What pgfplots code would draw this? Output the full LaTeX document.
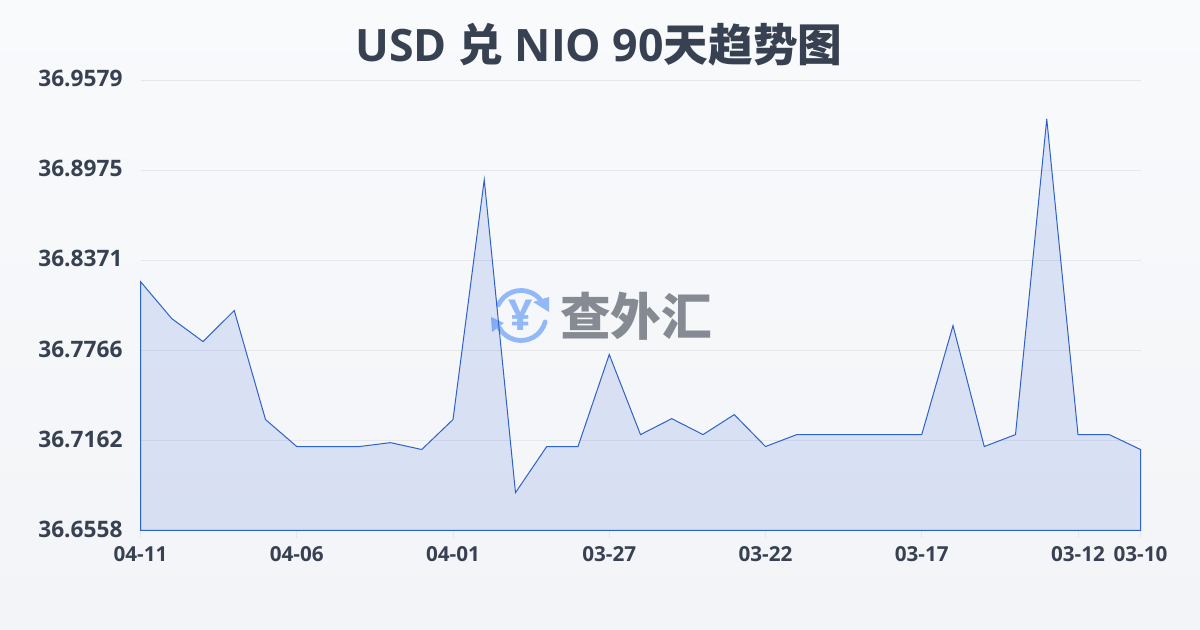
\documentclass[border=0pt]{standalone}
\usepackage{fontspec}
\setmainfont{Open Sans}[BoldFont={Open Sans Bold}]
\newfontfamily\cjk{Noto Sans CJK SC}
\usepackage{pgfplots}
\pgfplotsset{compat=1.18}
\definecolor{txt}{HTML}{374151}
\definecolor{lne}{HTML}{2F62C8}
\definecolor{fil}{HTML}{1D4ED8}
\definecolor{grd}{HTML}{E5E7EB}
\definecolor{wm}{HTML}{868A93}
\definecolor{lg}{HTML}{93B8F8}
\begin{document}
\begin{tikzpicture}[x=0.75pt,y=0.75pt]
\path[use as bounding box] (0,0) rectangle (1200,630);
\shade[top color={rgb,255:red,249;green,250;blue,252}, bottom color={rgb,255:red,242;green,244;blue,247}] (0,0) rectangle (1200,630);
\node[anchor=center,text=txt,font=\bfseries\fontsize{33.5}{36}\selectfont] at (599,585) {USD {\cjk 兑} NIO 90{\cjk 天趋势图}};
% watermark
\draw[lg,line width=3.6pt,line cap=round] (521,314.5)+(155:25) arc[start angle=155,end angle=32,radius=25];
\draw[lg,line width=3.6pt,line cap=round] (521,314.5)+(-15:25) arc[start angle=-15,end angle=-150,radius=25];
\fill[lg] (549,333) -- (549,318) -- (533,328) -- cycle;
\fill[lg] (491,313) -- (492,298) -- (504,307) -- cycle;
\node[text=lg,font=\bfseries\fontsize{32}{32}\selectfont] at (521,314.5) {¥};
\node[anchor=west,text=wm,inner sep=0pt,font=\cjk\bfseries\fontsize{38}{40}\selectfont] at (560,314) {查外汇};
\begin{axis}[
  at={(105.375pt,74.625pt)}, anchor=south west,
  scale only axis, width=750pt, height=337.875pt,
  xmin=0, xmax=32, ymin=36.6558, ymax=36.9579,
  clip=false,
  axis line style={draw=none},
  tick pos=left,
  /pgf/number format/assume math mode=true,
  xtick={0,5,10,15,20,25,30,32},
  xticklabels={04-11,04-06,04-01,03-27,03-22,03-17,03-12,03-10},
  ytick={36.6558,36.7162,36.7766,36.8371,36.8975,36.9579},
  yticklabels={36.6558,36.7162,36.7766,36.8371,36.8975,36.9579},
  ymajorgrids, grid style={grd,line width=0.6pt},
  tick align=outside, major tick length=6pt,
  xtick style={grd,line width=0.6pt}, ytick style={draw=none},
  x tick label style={text=txt,font=\bfseries\fontsize{15.5}{17}\selectfont,yshift=-2.5pt},
  y tick label style={text=txt,font=\bfseries\fontsize{17}{19}\selectfont,xshift=-4pt,yshift=1pt},
]
\addplot[draw=lne,line width=0.75pt,line join=miter,fill=fil,fill opacity=0.13,draw opacity=1] table {
x y
0 36.8227
1 36.7979
2 36.7825
3 36.8033
4 36.7302
5 36.7121
6 36.7121
7 36.7121
8 36.7147
9 36.7101
10 36.7302
11 36.8911
12 36.6812
13 36.7121
14 36.7121
15 36.7738
16 36.7201
17 36.7308
18 36.7201
19 36.7335
20 36.7121
21 36.7201
22 36.7201
23 36.7201
24 36.7201
25 36.7201
26 36.7932
27 36.7121
28 36.7201
29 36.9318
30 36.7201
31 36.7201
32 36.7101
} \closedcycle;
\end{axis}
\end{tikzpicture}
\end{document}
